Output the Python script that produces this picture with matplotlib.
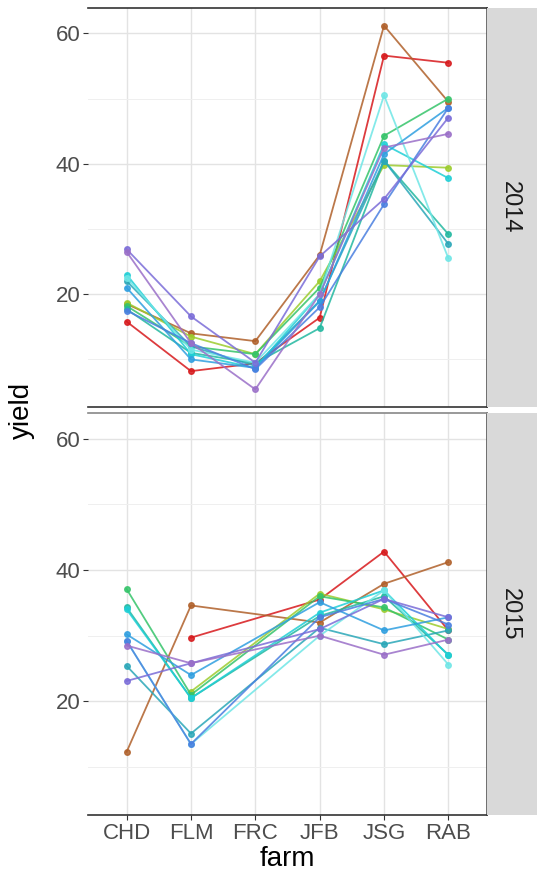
import numpy as np
import matplotlib
matplotlib.use('Agg')
from matplotlib import pyplot as plt

plt.rcParams['font.family'] = ['Liberation Sans', 'DejaVu Sans']

farms = ['CHD', 'FLM', 'FRC', 'JFB', 'JSG', 'RAB']
years = ['2014', '2015']
nan = np.nan

# цвета генотипов
colors = ['#d7191c', '#b0602a', '#9ccc2e', '#35c46a', '#22b8a0', '#2aa7b8',
          '#1fcfd6', '#6fe6e6', '#2f9fe0', '#4a7fe0', '#7a6cd8', '#9a6fc8']

# урожайность 2014 (CHD, FLM, FRC, JFB, JSG, RAB)
yield_2014 = [
    [15.8, 8.2, 9.4, 16.4, 56.6, 55.5],
    [18.5, 14.0, 12.8, 26.0, 61.2, 49.5],
    [18.7, 13.5, 10.8, 22.0, 39.8, 39.4],
    [18.2, 12.0, 10.8, 21.0, 44.3, 50.0],
    [17.7, 11.0, 9.4, 14.8, 40.5, 29.2],
    [22.0, 12.0, 9.0, 19.0, 40.5, 27.7],
    [23.0, 10.8, 8.7, 20.0, 43.0, 37.8],
    [22.5, 11.5, 9.5, 20.0, 50.5, 25.5],
    [21.0, 10.0, 8.7, 18.9, 41.5, 48.6],
    [17.5, 12.5, 8.5, 18.0, 33.8, 48.6],
    [26.9, 16.6, 9.5, 25.8, 34.6, 47.1],
    [26.5, 12.5, 5.4, 20.0, 42.5, 44.6],
]

# урожайность 2015 (на FRC почти нет данных)
yield_2015 = [
    [nan, 29.7, nan, 35.5, 42.8, 30.8],
    [12.3, 34.6, nan, 32.0, 37.9, 41.2],
    [nan, 21.5, nan, 36.4, 34.0, 31.0],
    [37.1, 21.0, nan, 36.0, 34.3, 29.4],
    [34.3, 20.5, nan, 33.0, 36.0, 27.1],
    [25.4, 15.1, nan, 31.2, 28.7, 30.8],
    [34.0, 20.5, nan, 33.5, 36.9, 27.0],
    [29.2, 13.5, nan, 30.0, 36.9, 25.6],
    [30.2, 24.0, nan, 35.1, 30.8, 32.8],
    [29.2, 13.5, nan, 32.8, 35.6, 31.7],
    [23.1, 25.8, nan, 31.0, 35.6, 32.8],
    [28.5, 25.8, nan, 30.0, 27.1, 29.4],
]

W, H = 537, 880
fig = plt.figure(figsize=(W / 100, H / 100), dpi=100)

panels = [(8, 407, yield_2014, '2014', '#333333'), (413, 815, yield_2015, '2015', '#888888')]
x = np.arange(len(farms))

for i, (top, bottom, data, label, topcol) in enumerate(panels):
    ax = fig.add_axes([88 / W, 1 - bottom / H, (487 - 88) / W, (bottom - top) / H])
    for vals, c in zip(data, colors):
        v = np.array(vals, dtype=float)
        m = ~np.isnan(v)
        ax.plot(x[m], v[m], color=c, lw=1.3, alpha=0.85, marker='o', ms=4, zorder=3)
    ax.set_xlim(-0.6, 5.6)
    ax.set_ylim(2.7, 63.9)
    ax.set_yticks([20, 40, 60])
    ax.set_yticks([10, 30, 50], minor=True)
    ax.set_xticks(x)
    ax.grid(which='major', color='#e3e3e3', lw=1.0)
    ax.grid(which='minor', axis='y', color='#efefef', lw=0.7)
    ax.set_axisbelow(True)
    ax.tick_params(axis='y', which='minor', length=0)
    ax.tick_params(axis='both', which='major', labelsize=16, colors='#4d4d4d',
                   length=3.5, width=0.8, pad=2)
    ax.tick_params(axis='both', which='major', color='#333333')
    ax.spines['left'].set_visible(False)
    ax.spines['right'].set_color('#555555')
    ax.spines['top'].set_color(topcol)
    ax.spines['bottom'].set_color('#333333')
    for s in ax.spines.values():
        s.set_linewidth(1.2)
    if i == 0:
        ax.set_xticklabels([])
        ax.tick_params(axis='x', length=0)
    else:
        ax.set_xticklabels(farms)
        ax.set_xlabel('farm', fontsize=20, labelpad=2)

    # полоска фасета справа
    sax = fig.add_axes([487 / W, 1 - bottom / H, 55 / W, (bottom - top) / H])
    sax.set_facecolor('#d9d9d9')
    sax.set_xticks([])
    sax.set_yticks([])
    for s in sax.spines.values():
        s.set_visible(False)
    sax.text(0.42, 0.5, label, rotation=-90, ha='center', va='center',
             fontsize=17, color='#1a1a1a', transform=sax.transAxes)

fig.text(22 / W, 1 - 410 / H, 'yield', rotation=90, ha='center', va='center', fontsize=20)

plt.savefig('out.png', dpi=100)
